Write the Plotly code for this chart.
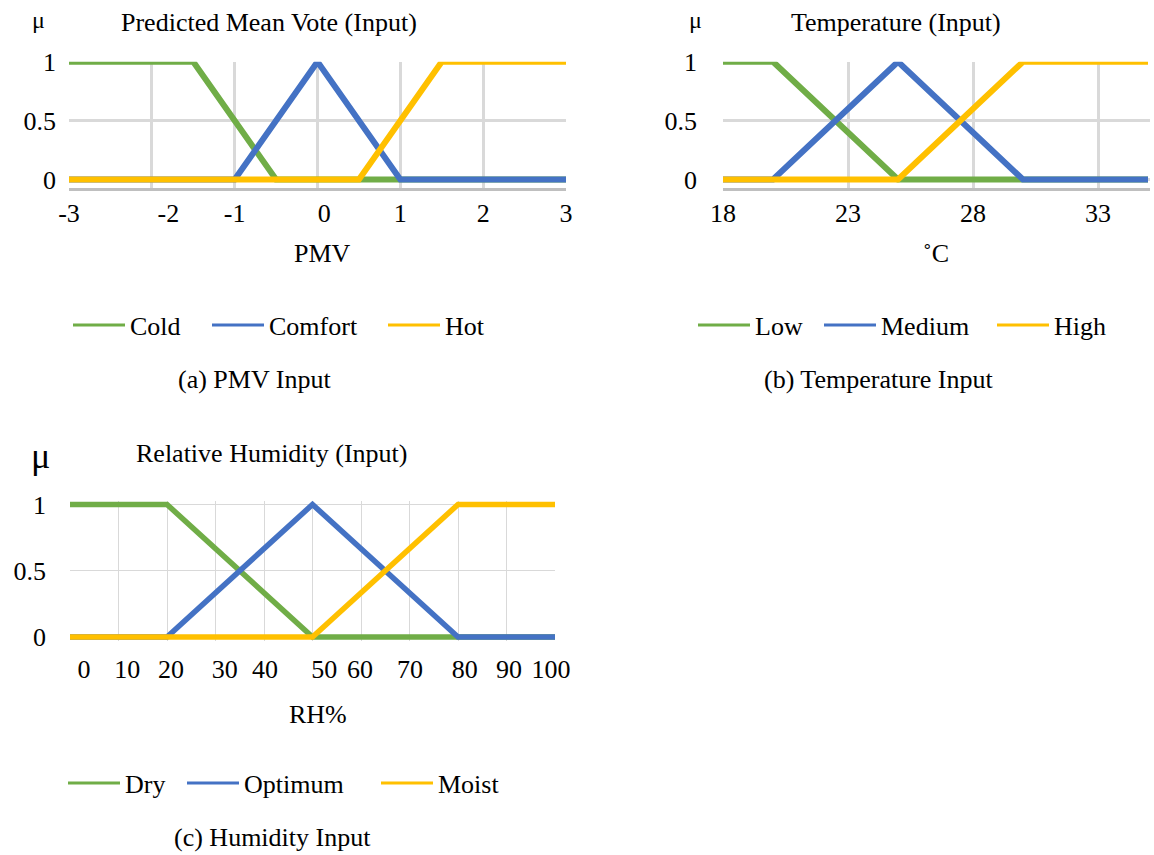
import plotly.graph_objects as go

W, H = 1154, 855
FONT = "Liberation Serif"
GREEN, BLUE, ORANGE = "#70AD47", "#4472C4", "#FFC000"
GRID = "#D9D9D9"
AXIS = "#BFBFBF"

# ---------------- data ----------------
# (a) Predicted Mean Vote
pmv_cold_x = [-3, -1.5, -0.5, 3]
pmv_cold_y = [1, 1, 0, 0]
pmv_comfort_x = [-3, -1, 0, 1, 3]
pmv_comfort_y = [0, 0, 1, 0, 0]
pmv_hot_x = [-3, 0.5, 1.5, 3]
pmv_hot_y = [0, 0, 1, 1]
pmv_grid = [-3, -2, -1, 0, 1, 2, 3]
pmv_tick_pos = [-3, -1.8, -1, 0.08, 1, 2, 3]
pmv_tick_text = ["-3", "-2", "-1", "0", "1", "2", "3"]

# (b) Temperature
temp_low_x = [18, 20, 25, 35]
temp_low_y = [1, 1, 0, 0]
temp_med_x = [18, 20, 25, 30, 35]
temp_med_y = [0, 0, 1, 0, 0]
temp_high_x = [18, 25, 30, 35]
temp_high_y = [0, 0, 1, 1]
temp_ticks = [18, 23, 28, 33]
temp_tick_text = ["18", "23", "28", "33"]

# (c) Relative humidity
rh_dry_x = [0, 20, 50, 100]
rh_dry_y = [1, 1, 0, 0]
rh_opt_x = [0, 20, 50, 80, 100]
rh_opt_y = [0, 0, 1, 0, 0]
rh_moist_x = [0, 50, 80, 100]
rh_moist_y = [0, 0, 1, 1]
rh_grid = [0, 10, 20, 30, 40, 50, 60, 70, 80, 90, 100]
rh_tick_pos = [2.9, 11.8, 20.8, 31.9, 40.2, 52.4, 59.8, 70.1, 81.4, 90.5, 99.2]
rh_tick_text = ["0", "10", "20", "30", "40", "50", "60", "70", "80", "90", "100"]

mu_ticks = [0, 0.5, 1]
mu_tick_text = ["0", "0.5", "1"]


def px(x):
    return x / W


def py(y):
    return 1 - y / H


fig = go.Figure()

series = [
    # (x, y, name, color, xaxis, yaxis, width, legend)
    (pmv_cold_x, pmv_cold_y, "Cold", GREEN, "x", "y", 6, "legend"),
    (pmv_comfort_x, pmv_comfort_y, "Comfort", BLUE, "x", "y", 6, "legend2"),
    (pmv_hot_x, pmv_hot_y, "Hot", ORANGE, "x", "y", 6, "legend3"),
    (temp_low_x, temp_low_y, "Low", GREEN, "x2", "y2", 6, "legend4"),
    (temp_med_x, temp_med_y, "Medium", BLUE, "x2", "y2", 6, "legend5"),
    (temp_high_x, temp_high_y, "High", ORANGE, "x2", "y2", 6, "legend6"),
    (rh_dry_x, rh_dry_y, "Dry", GREEN, "x3", "y3", 5.5, "legend7"),
    (rh_opt_x, rh_opt_y, "Optimum", BLUE, "x3", "y3", 5.5, "legend8"),
    (rh_moist_x, rh_moist_y, "Moist", ORANGE, "x3", "y3", 5.5, "legend9"),
]
for xs, ys, name, color, xa, ya, lw, lg in series:
    fig.add_trace(go.Scatter(x=xs, y=ys, name=name, mode="lines",
                             line=dict(color=color, width=lw),
                             xaxis=xa, yaxis=ya, legendgroup=name, showlegend=False))
    # legend entry (thinner swatch, as in the reference)
    fig.add_trace(go.Scatter(x=[None], y=[None], name=name, mode="lines",
                             line=dict(color=color, width=3),
                             xaxis=xa, yaxis=ya, legend=lg, legendgroup=name,
                             showlegend=True, hoverinfo="skip"))

tickfont = dict(family=FONT, size=26, color="black")

layout = dict(
    width=W, height=H, autosize=False,
    margin=dict(l=0, r=0, t=0, b=0, pad=0, autoexpand=False),
    paper_bgcolor="white", plot_bgcolor="white",
    font=dict(family=FONT, size=26, color="black"),
    showlegend=True,
    xaxis=dict(domain=[px(69), px(566)], range=[-3, 3], anchor="y",
               tickvals=pmv_tick_pos, ticktext=pmv_tick_text, showgrid=False,
               ticks="outside", ticklen=0,
               minor=dict(tickvals=pmv_grid, showgrid=True, gridcolor=GRID, gridwidth=2.5,
                          ticks="inside", ticklen=0),
               showline=True, linecolor=AXIS, linewidth=2.5, zeroline=False,
               tickfont=tickfont, ticklabelstandoff=0, fixedrange=True, automargin=False),
    yaxis=dict(domain=[py(188), py(61.7)], range=[-0.072, 1], anchor="x",
               tickvals=mu_ticks, ticktext=mu_tick_text, showgrid=True, gridcolor=GRID,
               gridwidth=2.5, zeroline=False, showline=False, tickfont=tickfont,
               ticklabelstandoff=12, fixedrange=True, automargin=False),
    xaxis2=dict(domain=[px(723), px(1150)], range=[18, 35.08], anchor="y2",
                tickvals=temp_ticks, ticktext=temp_tick_text, showgrid=True, gridcolor=GRID,
                gridwidth=2.5, showline=True, linecolor=AXIS, linewidth=2.5, zeroline=False,
                tickfont=tickfont, ticklabelstandoff=0, fixedrange=True, automargin=False),
    yaxis2=dict(domain=[py(188), py(61.7)], range=[-0.072, 1], anchor="x2",
                tickvals=mu_ticks, ticktext=mu_tick_text, showgrid=True, gridcolor=GRID,
                gridwidth=2.5, zeroline=False, showline=False, tickfont=tickfont,
                ticklabelstandoff=25, fixedrange=True, automargin=False),
    xaxis3=dict(domain=[px(70), px(555)], range=[0, 100], anchor="y3",
                tickvals=rh_tick_pos, ticktext=rh_tick_text, showgrid=False,
                ticks="outside", ticklen=0,
                minor=dict(tickvals=rh_grid, showgrid=True, gridcolor=GRID, gridwidth=1.3,
                           ticks="inside", ticklen=0),
                showline=False, zeroline=False, tickfont=tickfont,
                ticklabelstandoff=5, fixedrange=True, automargin=False),
    yaxis3=dict(domain=[py(641), py(500.5)], range=[-0.03, 1.03], anchor="x3",
                tickvals=mu_ticks, ticktext=mu_tick_text, showgrid=True, gridcolor=GRID,
                gridwidth=1.3, zeroline=False, showline=False, tickfont=tickfont,
                ticklabelstandoff=23, fixedrange=True, automargin=False),
)

# legends: one per entry, positioned like the reference
legend_pos = {
    "legend": (73, 325), "legend2": (212, 325), "legend3": (388, 325),
    "legend4": (698, 325), "legend5": (824, 325), "legend6": (997, 325),
    "legend7": (68, 783), "legend8": (187, 783), "legend9": (381, 783),
}
for key, (lx, ly) in legend_pos.items():
    layout[key] = dict(x=px(lx - 5), y=py(ly), xanchor="left", yanchor="middle",
                       orientation="h", itemwidth=52, bgcolor="rgba(0,0,0,0)",
                       borderwidth=0, font=dict(family=FONT, size=26, color="black"))

fig.update_layout(**layout)

annots = [
    ("μ", 38, 20, 24),
    ("Predicted Mean Vote (Input)", 269, 22, 26),
    ("μ", 695, 20, 24),
    ("Temperature (Input)", 896, 22, 26),
    ("PMV", 322, 254, 26),
    ("˚C", 936, 254, 26),
    ("(a) PMV Input", 254, 379, 26),
    ("(b) Temperature Input", 878, 379, 26),
    ("μ", 40, 456, 36),
    ("Relative Humidity (Input)", 272, 454, 26),
    ("RH%", 318, 714, 26),
    ("(c) Humidity Input", 272, 837, 26),
]
for text, x, y, size in annots:
    fig.add_annotation(text=text, x=px(x), y=py(y), xref="paper", yref="paper",
                       xanchor="center", yanchor="middle", showarrow=False,
                       font=dict(family=FONT, size=size, color="black"))

fig.write_html("out.html", config={"displayModeBar": False},
               post_script="document.body.style.margin='0';document.body.style.overflow='hidden';")
